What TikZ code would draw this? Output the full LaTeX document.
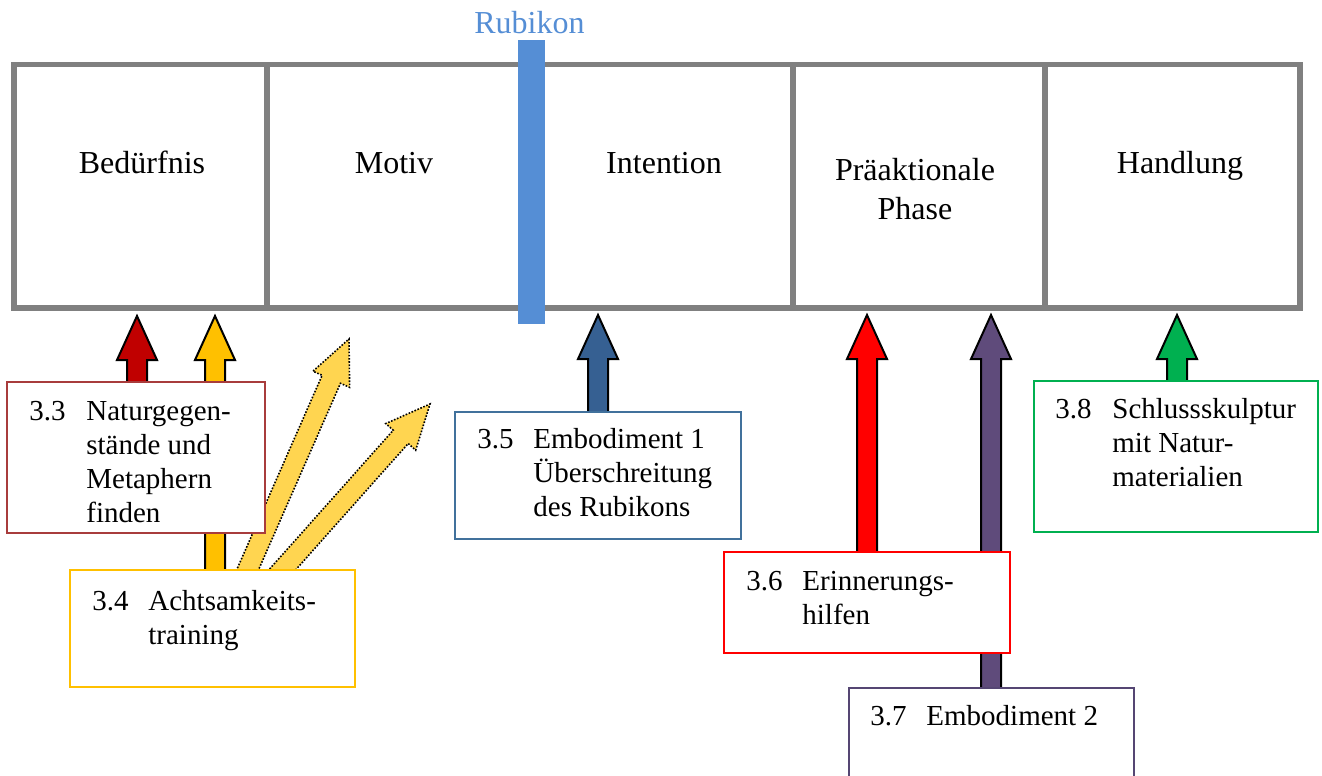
\documentclass[tikz,border=0pt]{standalone}
\usepackage{fontspec}
\setmainfont{Liberation Serif}
\usetikzlibrary{calc,fit}
\definecolor{phasegray}{RGB}{128,128,128}
\definecolor{rubikon}{RGB}{85,142,213}
\definecolor{darkred}{RGB}{192,0,0}
\definecolor{amber}{RGB}{255,192,0}
\definecolor{dotyellow}{RGB}{255,213,80}
\definecolor{arrowblue}{RGB}{54,96,146}
\definecolor{boxblue}{RGB}{65,113,156}
\definecolor{pureRed}{RGB}{255,0,0}
\definecolor{arrowpurple}{RGB}{95,75,123}
\definecolor{boxpurple}{RGB}{85,70,115}
\definecolor{green}{RGB}{0,176,80}
\definecolor{boxbrown}{RGB}{168,60,60}
\tikzset{
  phase/.style={draw=phasegray, line width=2.75pt, inner sep=0pt},
  phasetext/.style={anchor=base, inner sep=0pt, font=\fontsize{16}{19.5}\selectfont},
  lblbox/.style={draw=#1, fill=white, line width=1pt, inner sep=0pt},
  lbltext/.style={anchor=base west, inner sep=0pt, font=\fontsize{14.5}{17}\selectfont},
  barrow/.style={fill=#1, draw=black, line width=1pt, line join=miter},
  darrow/.style={fill=dotyellow, draw=black, line width=0.8pt, dash pattern=on 0.8pt off 0.8pt, line join=miter},
}
% #1 style, #2 start, #3 tip
\newcommand\blockarrow[3]{%
  \coordinate (H) at ($(#3)!22pt!(#2)$);
  \draw[#1] ($(#2)!5pt!90:(#3)$) -- ($(H)!5pt!-90:(#2)$) -- ($(H)!10pt!-90:(#2)$)
    -- (#3) -- ($(H)!10pt!90:(#2)$) -- ($(H)!5pt!90:(#2)$) -- ($(#2)!5pt!-90:(#3)$) -- cycle;
}
\begin{document}
\begin{tikzpicture}[x=0.5pt,y=-0.5pt]
\useasboundingbox (0,0) rectangle (1322,776);
\clip (0,0) rectangle (1322,776);

% phase boxes
\node[phase, fit={(13.8,64.5)(267,308)}] (bed) {};
\node[phase, fit={(267,64.5)(531,308)}] (mot) {};
\node[phase, fit={(531,64.5)(793,308)}] (int) {};
\node[phase, fit={(793,64.5)(1045,308)}] (prae) {};
\node[phase, fit={(1045,64.5)(1300,308)}] (hand) {};
\node[phasetext] (tbed) at (142,173) {Bedürfnis};
\node[phasetext] (tmot) at (394,173) {Motiv};
\node[phasetext] (tint) at (664,173) {Intention};
\node[phasetext] (tprae) at (915,180) {\begin{tabular}[t]{@{}c@{}}Präaktionale\\Phase\end{tabular}};
\node[phasetext] (thand) at (1180,173) {Handlung};

% Rubikon
\node[fill=rubikon, inner sep=0pt, fit={(518,40)(545,324)}] (rub) {};
\node[phasetext, text=rubikon] (trub) at (529.5,33) {Rubikon};

% label boxes (positions only, drawn later)
\coordinate (a1t) at (137,316);
\coordinate (a2t) at (215,316);
\coordinate (a3t) at (349,339);
\coordinate (a4t) at (430,404);
\coordinate (a5t) at (598,315);
\coordinate (a6t) at (867,315);
\coordinate (a7t) at (991,315);
\coordinate (a8t) at (1177,315);
\coordinate (a1s) at (137,390);
\coordinate (a2s) at (215,575);
\coordinate (a3s) at (244,578);
\coordinate (a4s) at (275,578);
\coordinate (a5s) at (598,420);
\coordinate (a6s) at (867,560);
\coordinate (a7s) at (991,695);
\coordinate (a8s) at (1177,390);

% arrows
\blockarrow{barrow=darkred}{a1s}{a1t}
\blockarrow{barrow=amber}{a2s}{a2t}
\blockarrow{darrow}{a3s}{a3t}
\blockarrow{darrow}{a4s}{a4t}
\blockarrow{barrow=arrowblue}{a5s}{a5t}
\blockarrow{barrow=pureRed}{a6s}{a6t}
\blockarrow{barrow=arrowpurple}{a7s}{a7t}
\blockarrow{barrow=green}{a8s}{a8t}

% label boxes
\node[lblbox=boxbrown, fit={(7,382)(265,533)}] (b33) {};
\node[lblbox=amber, fit={(70,570)(355,687)}] (b34) {};
\node[lblbox=boxblue, fit={(455,412)(741,539)}] (b35) {};
\node[lblbox=pureRed, fit={(724,552)(1010,653)}] (b36) {};
\node[lblbox=boxpurple, fit={(849,688)(1134,800)}] (b37) {};
\node[lblbox=green, fit={(1034,381)(1318,532)}] (b38) {};

\node[lbltext] (t33) at (29,420) {\begin{tabular}[t]{@{}p{28.5pt}@{}l@{}}3.3&Naturgegen-\\&stände und\\&Metaphern\\&finden\end{tabular}};
\node[lbltext] (t34) at (92,610) {\begin{tabular}[t]{@{}p{28pt}@{}l@{}}3.4&Achtsamkeits-\\&training\end{tabular}};
\node[lbltext] (t35) at (477,448) {\begin{tabular}[t]{@{}p{28pt}@{}l@{}}3.5&Embodiment 1\\&Überschreitung\\&des Rubikons\end{tabular}};
\node[lbltext] (t36) at (746,590) {\begin{tabular}[t]{@{}p{28pt}@{}l@{}}3.6&Erinnerungs-\\&hilfen\end{tabular}};
\node[lbltext] (t37) at (870,725) {\begin{tabular}[t]{@{}p{28pt}@{}l@{}}3.7&Embodiment 2\end{tabular}};
\node[lbltext] (t38) at (1055,418) {\begin{tabular}[t]{@{}p{28.5pt}@{}l@{}}3.8&Schlussskulptur\\&mit Natur-\\&materialien\end{tabular}};
\end{tikzpicture}
\end{document}
